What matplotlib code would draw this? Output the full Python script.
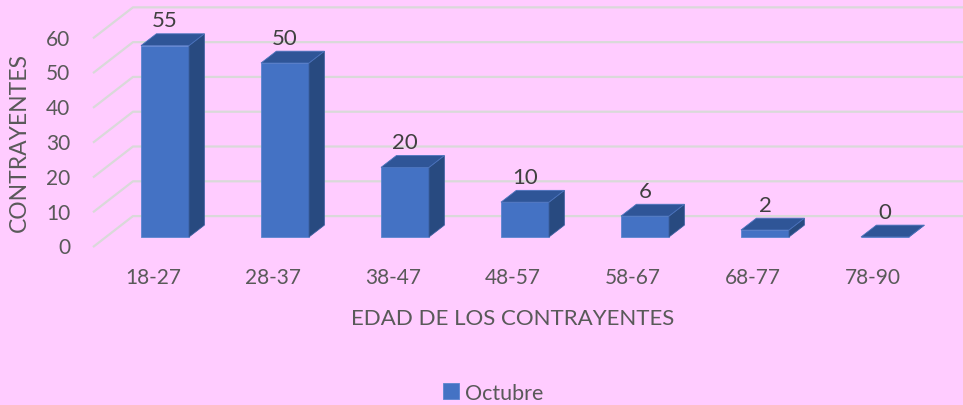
import matplotlib.pyplot as plt
from matplotlib.patches import Polygon

# datos del grafico
categorias = ['18-27', '28-37', '38-47', '48-57', '58-67', '68-77', '78-90']
contrayentes = [55, 50, 20, 10, 6, 2, 0]
ticks_y = [0, 10, 20, 30, 40, 50, 60]

plt.rcParams['font.family'] = ['Lato', 'DejaVu Sans']

fondo = '#FFCCFF'
frente = '#4472C4'
lado = '#284A80'
tapa = '#2F5597'
gris = '#595959'

fig = plt.figure(figsize=(9.63, 4.06), dpi=100, facecolor=fondo)
ax = fig.add_axes([0, 0, 1, 1])
ax.set_facecolor(fondo)
ax.set_xlim(-1.375, 6.65)
ax.set_ylim(-48.3, 68.4)
ax.axis('off')

# rejilla en perspectiva (pared del fondo)
for t in ticks_y:
    ax.plot([-0.6, -0.267, 6.65], [t - 2.9, t + 6.0, t + 6.0],
            color='#d9d9d9', lw=1.6, zorder=1, solid_capstyle='butt')
    ax.text(-0.79, t - 3.0, str(t), ha='right', va='center',
            fontsize=15, color=gris)

# barras 3D: cara frontal + lateral + tapa
ancho = 0.4
dx, dy = 0.128, 3.4
x = list(range(len(categorias)))
barras = ax.bar(x, contrayentes, width=ancho, color=frente,
                edgecolor='#5b85d0', linewidth=0.6, zorder=3, label='Octubre')
for i, v in zip(x, contrayentes):
    x1 = i + ancho / 2
    x0 = i - ancho / 2
    ax.add_patch(Polygon([(x1, 0), (x1 + dx, dy), (x1 + dx, v + dy), (x1, v)],
                         closed=True, facecolor=lado, edgecolor='#3a5e9e',
                         linewidth=0.6, zorder=3))
    ax.add_patch(Polygon([(x0, v), (x1, v), (x1 + dx, v + dy), (x0 + dx, v + dy)],
                         closed=True, facecolor=tapa, edgecolor='#4a73bd',
                         linewidth=0.6, zorder=3))
    ax.text(i, v + 7.3, str(v), ha='center', va='center',
            fontsize=16, color='#404040', zorder=4)
    ax.text(i - 0.1, -11.5, categorias[i], ha='center', va='center',
            fontsize=15, color=gris)

ax.text(2.9, -23.3, 'EDAD DE LOS CONTRAYENTES', ha='center', va='center',
        fontsize=16, color=gris)
ax.text(-1.21, 27.3, 'CONTRAYENTES', ha='center', va='center',
        rotation=90, fontsize=16.5, color=gris)

fig.legend(handles=[barras], loc='lower center', bbox_to_anchor=(0.512, -0.042),
           frameon=False, fontsize=15.5, labelcolor=gris,
           handlelength=0.75, handleheight=0.75, handletextpad=0.3)

fig.savefig('out.png', dpi=100, facecolor=fondo)
